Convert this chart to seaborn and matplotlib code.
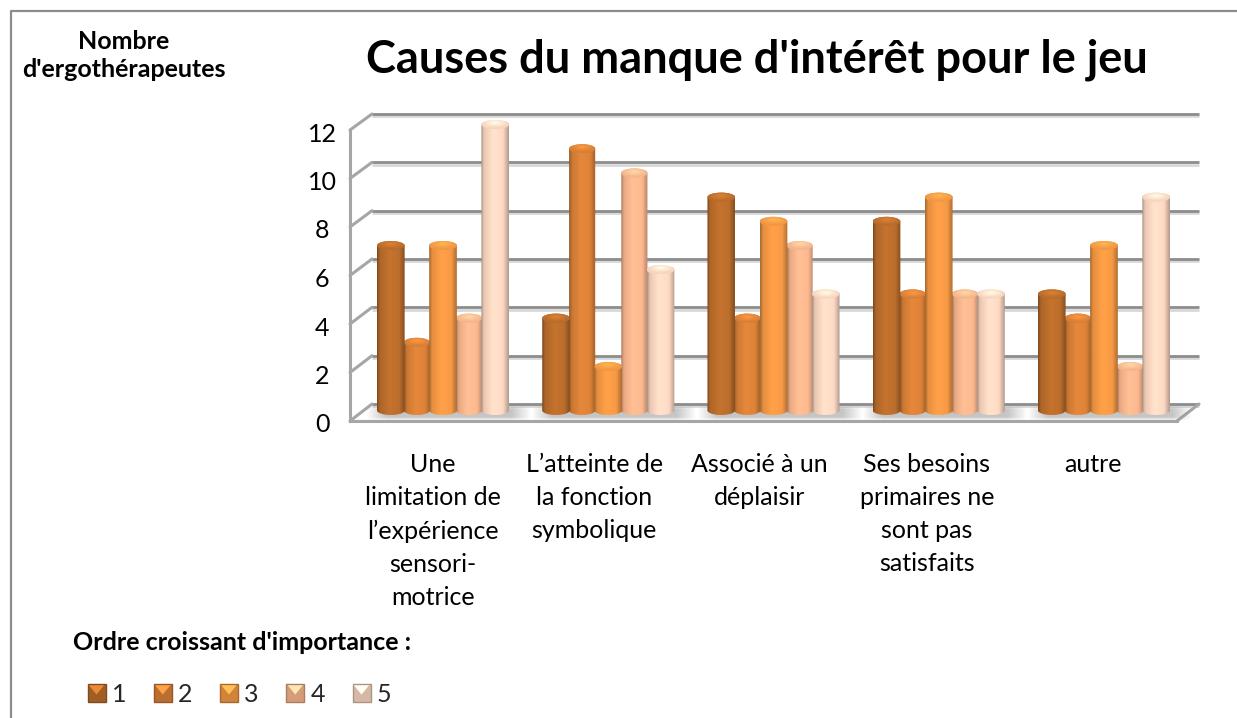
import numpy as np
import pandas as pd
import matplotlib
matplotlib.use('Agg')
import matplotlib.pyplot as plt
import seaborn as sns
from matplotlib.colors import to_rgb
from matplotlib.legend_handler import HandlerBase
from matplotlib.lines import Line2D
from matplotlib.patches import ConnectionPatch, Ellipse, PathPatch, Polygon, Rectangle
from matplotlib.path import Path
from matplotlib.transforms import Affine2D
import matplotlib.patheffects as pe

causes = ["Une\nlimitation de\nl’expérience\nsensori-\nmotrice",
          "L’atteinte de\nla fonction\nsymbolique",
          "Associé à un\ndéplaisir",
          "Ses besoins\nprimaires ne\nsont pas\nsatisfaits",
          "autre"]
ordre = ['1', '2', '3', '4', '5']
ordre_1 = [7, 4, 9, 8, 5]
ordre_2 = [3, 11, 4, 5, 4]
ordre_3 = [7, 2, 8, 9, 7]
ordre_4 = [4, 10, 7, 5, 2]
ordre_5 = [12, 6, 5, 5, 9]
yticks = [0, 2, 4, 6, 8, 10, 12]
couleurs = ['#BC6E2C', '#DC8238', '#F79A45', '#FBB88F', '#FDD9C3']

W, H = 1237, 718
GRIS = '#8c8c8c'
GRIS_CLAIR = '#a6a6a6'

sns.set_theme(style='white')
plt.rcParams['font.family'] = ['Lato', 'DejaVu Sans']


def rect_px(x0, y_top, x1, y_bas):
    return [x0 / W, 1 - y_bas / H, (x1 - x0) / W, (y_bas - y_top) / H]


def teinte(couleur, facteur):
    return np.clip(np.array(to_rgb(couleur)) * facteur, 0, 1)


df = pd.DataFrame({'cause': causes, '1': ordre_1, '2': ordre_2, '3': ordre_3, '4': ordre_4, '5': ordre_5})
df = df.melt(id_vars='cause', var_name='ordre', value_name='nombre')

fig = plt.figure(figsize=(W / 100, H / 100), dpi=100, facecolor='white')

# cadre (haut et gauche seulement)
fig.add_artist(Line2D([11 / W, 11 / W, 1], [0, 1 - 11 / H, 1 - 11 / H], color=GRIS, lw=1.6))

# ====================mur du fond==============================
ax_fond = fig.add_axes(rect_px(372, 114, 1199, 404), facecolor='none', zorder=0)
ax_fond.set_ylim(0, 12)
ax_fond.set_xlim(0, 1)
ax_fond.axis('off')
ax_fond.hlines(yticks, 0, 1, color=GRIS, lw=2, clip_on=False,
               path_effects=[pe.SimpleLineShadow(offset=(0, -1.6), shadow_color='#c8c8c8', alpha=0.7), pe.Normal()])

# ====================mur de devant + graduations==============
ax_devant = fig.add_axes(rect_px(350, 130, 1177, 421), facecolor='none', zorder=1)
ax_devant.set_ylim(0, 12)
ax_devant.set_xlim(-0.5, 4.5)
ax_devant.set_xticks(range(len(causes)))
ax_devant.set_xticklabels(causes)
ax_devant.set_yticks(yticks)
ax_devant.tick_params(axis='y', length=0, pad=20, labelsize=18, colors='black')
ax_devant.tick_params(axis='x', length=0, pad=23, labelsize=18, colors='black')
for lab in ax_devant.get_yticklabels():
    lab.set_ha('center')
    lab.set_transform(lab.get_transform() + Affine2D().translate(0, -2))
decalages = [0, -4, -4, -2, -1]
for lab, dx in zip(ax_devant.get_xticklabels(), decalages):
    lab.set_linespacing(1.53)
    lab.set_transform(lab.get_transform() + Affine2D().translate(dx, 0))
sns.despine(ax=ax_devant, top=True, right=True)
for cote in ['left', 'bottom']:
    ax_devant.spines[cote].set_color(GRIS_CLAIR)
    ax_devant.spines[cote].set_linewidth(2.2)

for v in yticks:
    ax_devant.add_artist(ConnectionPatch((0, v), (0, v), coordsA=ax_fond.get_yaxis_transform(),
                                         coordsB=ax_devant.get_yaxis_transform(),
                                         color=GRIS_CLAIR, lw=2.2))
ax_devant.add_artist(ConnectionPatch((1, 0), (1, 0), coordsA=ax_fond.get_yaxis_transform(),
                                     coordsB=ax_devant.get_yaxis_transform(),
                                     color=GRIS_CLAIR, lw=2.2))

# ====================barres==============================
# 24.2 px par unite, base des barres a y=415
ax = fig.add_axes(rect_px(360.4, 415 - 13 * 24.2, 1186.6, 415), facecolor='none', zorder=2)
sns.barplot(data=df, x='cause', y='nombre', hue='ordre', hue_order=ordre, palette=couleurs,
            order=causes, width=0.79, gap=0, saturation=1, errorbar=None, ax=ax)
ax.set_ylim(0, 13)
ax.set_xlim(-0.5, 4.5)
ax.set_autoscale_on(False)
ax.set_xlabel('')
ax.set_ylabel('')
ax.set_yticks([])
ax.set_xticks([])
sns.despine(ax=ax, left=True, bottom=True)

# ombres au sol, une par groupe
groupes = [c.patches for c in ax.containers]
for i in range(len(causes)):
    g = groupes[0][i].get_x() - 0.07
    d = groupes[4][i].get_x() + groupes[4][i].get_width() + 0.14
    xx = np.linspace(0, 1, 120)
    yy = np.linspace(-1, 1, 30)
    fx = np.clip(np.minimum(xx, 1 - xx) / 0.12, 0, 1)
    fy = np.clip((1 - np.abs(yy)) / 0.5, 0, 1)
    alpha = np.outer(fy, fx) * 0.5
    rgba = np.zeros((30, 120, 4))
    rgba[..., :3] = 0.55
    rgba[..., 3] = alpha
    ax.imshow(rgba, extent=[g, d, -0.25, 0.4], origin='lower', aspect='auto', zorder=0.5, clip_on=False)

# cylindres : degrade horizontal + chapeau elliptique
prof_x = np.array([0, 0.1, 0.45, 0.8, 1])
prof_f = np.array([0.68, 0.92, 1.05, 1.0, 0.72])
t = np.linspace(0, 1, 40)
theta = np.linspace(0, np.pi, 30)
H_CAP = 0.19
for s, cont in enumerate(ax.containers):
    coul = couleurs[s]
    ordre_z = 3 if s % 2 == 0 else 2
    grad = np.stack([np.interp(t, prof_x, prof_f * c) for c in to_rgb(coul)], axis=-1)[None, :, :]
    grad = np.clip(grad, 0, 1)
    for p in cont.patches:
        haut = p.get_height()
        cx = p.get_x() + p.get_width() / 2
        larg = p.get_width() * (1.06 if s % 2 == 0 else 1.0)
        rx = larg / 2
        # contour : arc du bas puis arc du haut
        bas_x = cx - rx * np.cos(theta)
        bas_y = H_CAP - H_CAP * np.sin(theta)
        haut_x = cx + rx * np.cos(theta)
        haut_y = haut + H_CAP * np.sin(theta)
        verts = np.vstack([np.column_stack([bas_x, bas_y]), np.column_stack([haut_x, haut_y])])
        contour = Path(np.vstack([verts, verts[0]]), closed=True)
        p.set_visible(False)
        im = ax.imshow(grad, extent=[cx - rx, cx + rx, 0, haut + H_CAP], aspect='auto', zorder=ordre_z,
                       interpolation='bilinear')
        im.set_clip_path(PathPatch(contour, transform=ax.transData))
        # chapeau
        gx, gy = np.meshgrid(np.linspace(-1, 1, 40), np.linspace(-1, 1, 16))
        r = np.clip(np.sqrt(gx ** 2 + (gy + 0.25) ** 2), 0, 1)[..., None]
        cap = teinte(coul, 1.18) * (1 - r) + teinte(coul, 0.98) * r
        im2 = ax.imshow(np.clip(cap, 0, 1), extent=[cx - rx, cx + rx, haut - H_CAP, haut + H_CAP], origin='upper',
                        aspect='auto', zorder=ordre_z + 0.1, interpolation='bilinear')
        im2.set_clip_path(Ellipse((cx, haut), 2 * rx, 2 * H_CAP, transform=ax.transData))


# ====================legende==============================
class Carre(HandlerBase):
    def create_artists(self, legend, orig_handle, xd, yd, width, height, fontsize, trans):
        coul = orig_handle.get_facecolor()[:3]
        x0, y0 = -xd, -yd
        carre = Rectangle((x0, y0), width, height, facecolor=teinte(coul, 0.85),
                          edgecolor=teinte(coul, 0.68), lw=1, transform=trans)
        tri = Polygon([(x0 + 1, y0 + height - 1), (x0 + width - 1, y0 + height - 1), (x0 + width / 2, y0 + height * 0.4)],
                      closed=True, facecolor=teinte(coul, 1.25), edgecolor='none', transform=trans)
        return [carre, tri]


handles, labels = ax.get_legend_handles_labels()
ax.legend(handles, labels, handler_map={type(handles[0]): Carre()}, ncol=5, frameon=False, fontsize=18,
          loc='center left', bbox_to_anchor=(70 / W, 1 - 694 / H), bbox_transform=fig.transFigure,
          handlelength=0.72, handleheight=0.72, handletextpad=0.25, columnspacing=1.1, borderpad=0.2)

# ====================textes==============================
fig.text(757 / W, 1 - 59.5 / H, "Causes du manque d'intérêt pour le jeu", ha='center', va='center',
         fontsize=32.5, fontweight='bold', color='black')
fig.text(124 / W, 1 - 55.5 / H, "Nombre\nd'ergothérapeutes", ha='center', va='center', fontsize=18,
         fontweight='bold', color='black', linespacing=1.3)
fig.text(73 / W, 1 - 643 / H, "Ordre croissant d'importance :", ha='left', va='center', fontsize=18,
         fontweight='bold', color='black')

fig.savefig('out.png', dpi=100)
